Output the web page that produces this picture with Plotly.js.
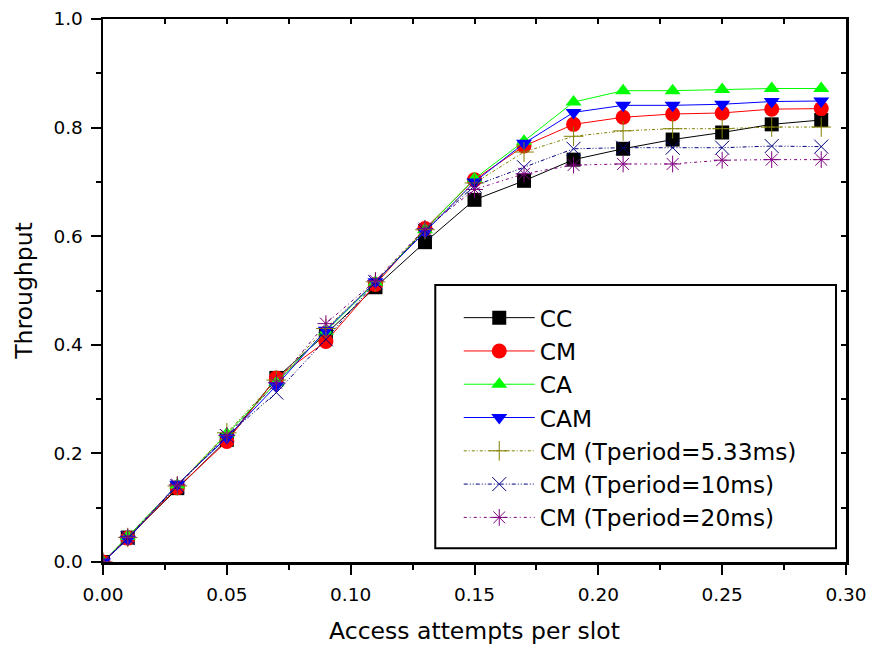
<!DOCTYPE html>
<html>
<head>
<meta charset="utf-8">
<script src="https://cdn.plot.ly/plotly-3.0.1.min.js"></script>
<style>html,body{margin:0;padding:0;background:#fff;}#chart{width:871px;height:652px;}</style>
</head>
<body>
<div id="chart"></div>
<script>
// Access attempts per slot
const attempts = [0, 0.01, 0.03, 0.05, 0.07, 0.09, 0.11, 0.13, 0.15, 0.17, 0.19, 0.21, 0.23, 0.25, 0.27, 0.29];
// Throughput series
const thrCC   = [0, 0.045, 0.136, 0.225, 0.339, 0.420, 0.506, 0.589, 0.667, 0.702, 0.741, 0.761, 0.778, 0.791, 0.806, 0.814];
const thrCM   = [0, 0.044, 0.137, 0.222, 0.339, 0.406, 0.511, 0.614, 0.704, 0.766, 0.806, 0.819, 0.825, 0.827, 0.834, 0.835];
const thrCA   = [0, 0.047, 0.142, 0.236, 0.330, 0.425, 0.515, 0.612, 0.706, 0.775, 0.847, 0.868, 0.868, 0.870, 0.872, 0.872];
const thrCAM  = [0, 0.042, 0.143, 0.229, 0.325, 0.427, 0.516, 0.608, 0.700, 0.771, 0.828, 0.841, 0.841, 0.843, 0.848, 0.849];
const thrT533 = [0, 0.045, 0.140, 0.238, 0.335, 0.430, 0.516, 0.612, 0.698, 0.755, 0.784, 0.794, 0.798, 0.798, 0.801, 0.801];
const thrT10  = [0, 0.044, 0.140, 0.232, 0.312, 0.410, 0.515, 0.610, 0.693, 0.727, 0.761, 0.763, 0.763, 0.763, 0.766, 0.765];
const thrT20  = [0, 0.046, 0.142, 0.233, 0.330, 0.439, 0.518, 0.614, 0.686, 0.715, 0.731, 0.733, 0.733, 0.740, 0.741, 0.741];
const seriesNames = ['CC', 'CM', 'CA', 'CAM', 'CM (Tperiod=5.33ms)', 'CM (Tperiod=10ms)', 'CM (Tperiod=20ms)'];
const xTitle = 'Access attempts per slot';
const yTitle = 'Throughput';

const FONT = 'DejaVu Sans, Arial, sans-serif';

function solid(name, y, color, symbol, size) {
  return {x: attempts, y: y, name: name, type: 'scatter', mode: 'lines+markers',
    line: {color: color, width: 1},
    marker: {symbol: symbol, size: size, color: color, line: {width: 0}}};
}
function thin(name, y, color, symbol, dash) {
  return {x: attempts, y: y, name: name, type: 'scatter', mode: 'lines+markers',
    line: {color: color, width: 1, dash: dash},
    marker: {symbol: symbol, size: 14, color: color, line: {width: 1, color: color}}};
}

const traces = [
  solid(seriesNames[0], thrCC, '#000000', 'square', 14),
  solid(seriesNames[1], thrCM, '#ff0000', 'circle', 15),
  solid(seriesNames[2], thrCA, '#00ff00', 'triangle-up', 14),
  solid(seriesNames[3], thrCAM, '#0000ff', 'triangle-down', 14),
  thin(seriesNames[4], thrT533, '#808000', 'cross-thin-open', '3px,2px,1px,2px'),
  thin(seriesNames[5], thrT10, '#000080', 'x-thin-open', '4px,2px,1px,2px,1px,2px'),
  thin(seriesNames[6], thrT20, '#800080', 'asterisk-open', '3px,3px,1px,3px'),
  {x: [], y: [], xaxis: 'x2', yaxis: 'y2', showlegend: false, type: 'scatter', hoverinfo: 'skip'}
];

const plotL = 102.5, plotR = 846, plotT = 19.3, plotB = 561.7;
const W = 871, H = 652;
const pw = plotR - plotL, ph = plotB - plotT;
const px = v => (v - plotL) / pw;
const py = v => (plotB - v) / ph;

const baseAxis = {
  showgrid: false, zeroline: false, showline: true, linecolor: '#000', linewidth: 2.5,
  tickcolor: '#000', tickwidth: 2, tickfont: {family: FONT, size: 18.5, color: '#000'}
};

const layout = {
  width: W, height: H,
  margin: {l: plotL, r: W - plotR, t: plotT, b: H - plotB, pad: 0},
  paper_bgcolor: '#fff', plot_bgcolor: '#fff',
  showlegend: true,
  font: {family: FONT, color: '#000'},
  xaxis: Object.assign({}, baseAxis, {
    range: [0, 0.30], dtick: 0.05, tick0: 0, tickformat: '.2f',
    ticks: 'outside', ticklen: 10, ticklabelstandoff: 4,
    minor: {dtick: 0.025, ticks: 'outside', ticklen: 5, tickwidth: 2, tickcolor: '#000'},
    title: {text: xTitle, font: {family: FONT, size: 23.5, color: '#000'}, standoff: 19},
    automargin: false
  }),
  yaxis: Object.assign({}, baseAxis, {
    range: [0, 1.0], dtick: 0.2, tick0: 0, tickformat: '.1f',
    ticks: 'outside', ticklen: 10, ticklabelstandoff: 4,
    minor: {dtick: 0.1, ticks: 'outside', ticklen: 5, tickwidth: 2, tickcolor: '#000'},
    title: {text: yTitle, font: {family: FONT, size: 23.5, color: '#000'}, standoff: 14},
    automargin: false
  }),
  xaxis2: Object.assign({}, baseAxis, {
    overlaying: 'x', side: 'top', anchor: 'y', range: [0, 0.30], dtick: 0.05, tick0: 0,
    ticks: 'inside', ticklen: 5, showticklabels: false,
    minor: {dtick: 0.025, ticks: 'inside', ticklen: 5, tickwidth: 2, tickcolor: '#000'}
  }),
  yaxis2: Object.assign({}, baseAxis, {
    overlaying: 'y', side: 'right', anchor: 'x', range: [0, 1.0], dtick: 0.2, tick0: 0,
    ticks: 'inside', ticklen: 5, showticklabels: false,
    minor: {dtick: 0.1, ticks: 'inside', ticklen: 5, tickwidth: 2, tickcolor: '#000'}
  }),
  legend: {
    x: px(458.5), y: py(296), xanchor: 'left', yanchor: 'top',
    bgcolor: 'rgba(0,0,0,0)', borderwidth: 0,
    font: {family: FONT, size: 23.3, color: '#000'},
    itemwidth: 71, tracegroupgap: 0
  },
  shapes: [
    {type: 'rect', xref: 'paper', yref: 'paper', x0: px(435), x1: px(836), y0: py(548), y1: py(285),
     line: {color: '#000', width: 2}, fillcolor: '#fff', layer: 'below'}
  ]
};

Plotly.newPlot('chart', traces, layout, {displayModeBar: false, staticPlot: true});
</script>
</body>
</html>
